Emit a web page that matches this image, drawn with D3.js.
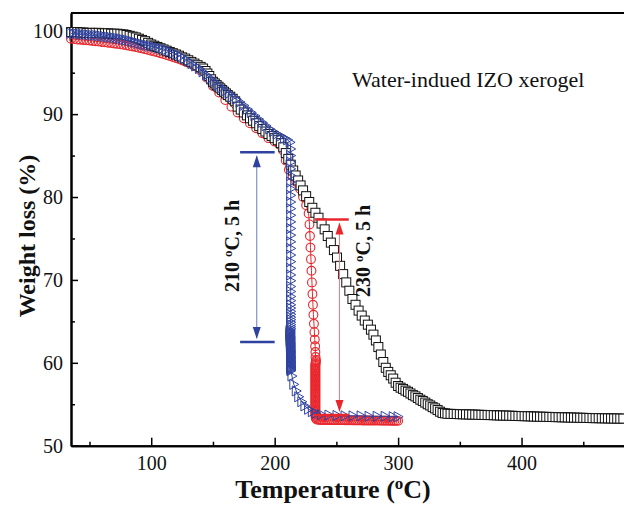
<!DOCTYPE html>
<html>
<head>
<meta charset="utf-8">
<script src="https://cdn.jsdelivr.net/npm/d3@7"></script>
<style>
  body { margin: 0; background: #fff; }
  svg { display: block; }
  text { font-family: "Liberation Serif", "Times New Roman", serif; }
</style>
</head>
<body>
<svg id="chart"></svg>
<script>
// ---- data: [temperature (C), weight (%)] ----
var blackPts = [
  [35,99.9],[37.5,99.9],[40,99.9],[42.5,99.85],[45,99.85],[47.5,99.8],[50,99.8],[52.5,99.8],[55,99.8],[57.5,99.8],
  [60,99.75],[62.5,99.75],[65,99.75],[67.5,99.7],[70,99.7],[72.5,99.7],[75,99.65],[77.5,99.62],[80,99.55],[82.5,99.45],
  [85,99.35],[87.5,99.25],[90,99.1],[92.5,98.95],[95,98.8],[97.5,98.6],[100,98.4],[102.5,98.25],[105,98.1],[107.5,97.95],
  [110,97.8],[112.5,97.65],[115,97.5],[117.5,97.35],[120,97.2],[122.5,97.05],[125,96.85],[127.5,96.7],[130,96.5],[132.5,96.3],
  [135,96.1],[137.5,95.9],[140,95.7],[142,95.5],[144,95.2],[145.5,94.9],[147,94.6],[148.5,94.2],[150,93.9],[151.5,93.7],
  [153,93.5],[154.5,93.3],[156,93.1],[157.5,92.9],[159,92.7],[160.5,92.5],[162,92.3],[164,92.1],[166,91.85],[168,91.55],
  [170,90.9],[172.5,90.55],[175,90.2],[177.5,89.85],[180,89.5],[182.5,89.2],[185,88.9],[187.5,88.55],[190,88.2],[192.5,87.9],
  [195,87.6],[197.5,87.35],[200,87.1],[202.5,86.85],[205,86.5],[207,86.0],[209,85.3],[211,84.6],[213,83.9],[215,83.2],
  [217,82.6],[219,82.0],[221,81.4],[223,80.8],[225.5,80.1],[228,79.4],[230.5,78.7],[233,78.1],[235.5,77.5],[238,76.8],
  [240.5,76.1],[243,75.3],[245.5,74.5],[248,73.6],[250.5,72.7],[253,71.7],[255.5,70.7],[258,69.7],[260.5,68.7],[263,67.7],
  [265.5,67.0],[268,66.3],[270.5,65.7],[273,65.1],[275.5,64.6],[278,64.0],[280,63.4],[282,62.7],[284,61.9],[286,61.0],
  [288,60.1],[290,59.4],[292,58.9],[294,58.5],[296,58.1],[298,57.6],[300,57.2],[302,57.0],[304,56.85],[306,56.65],
  [308,56.5],[310,56.3],[312,56.1],[314,55.95],[316,55.75],[318,55.55],[320,55.4],[322,55.2],[324,55.0],[326,54.85],
  [328,54.65],[330,54.5],[332,54.3],[334,54.1],[336,53.95],[338,53.9],
  [340,53.85],[342.5,53.84],[345,53.83],[347.5,53.82],[350,53.8],[352.5,53.79],[355,53.78],[357.5,53.77],[360,53.76],[362.5,53.75],
  [365,53.73],[367.5,53.72],[370,53.71],[372.5,53.7],[375,53.69],[377.5,53.68],[380,53.66],[382.5,53.65],[385,53.64],[387.5,53.63],
  [390,53.62],[392.5,53.61],[395,53.59],[397.5,53.58],[400,53.57],[402.5,53.56],[405,53.55],[407.5,53.54],[410,53.52],[412.5,53.51],
  [415,53.5],[417.5,53.49],[420,53.48],[422.5,53.47],[425,53.46],[427.5,53.45],[430,53.44],[432.5,53.43],[435,53.42],[437.5,53.41],
  [440,53.4],[442.5,53.39],[445,53.38],[447.5,53.37],[450,53.36],[452.5,53.35],[455,53.34],[457.5,53.33],[460,53.32],[462.5,53.32],
  [465,53.31],[467.5,53.3],[470,53.3],[472.5,53.29],[475,53.28],[477.5,53.28],[480,53.27],[482.5,53.27]
];

var redPts = [
  [35,99.1],[37.5,99.05],[40,99.0],[42.5,98.97],[45,98.94],[47.5,98.9],[50,98.87],[52.5,98.83],[55,98.79],[57.5,98.75],
  [60,98.7],[62.5,98.66],[65,98.62],[67.5,98.57],[70,98.52],[72.5,98.47],[75,98.42],[77.5,98.36],[80,98.3],[82.5,98.23],
  [85,98.16],[87.5,98.09],[90,98.01],[92.5,97.93],[95,97.84],[97.5,97.75],[100,97.65],[102.5,97.55],[105,97.45],[107.5,97.35],
  [110,97.24],[112.5,97.13],[115,97.02],[117.5,96.9],[120,96.78],[122.5,96.64],[125,96.5],[127.5,96.35],[130,96.2],[135,95.8],
  [140,95.25],[145,94.4],[150,93.4],[155,92.6],[160,91.7],[165,90.9],[170,90.2],[175,89.5],[180,88.9],[185,88.3],
  [190,87.7],[195,87.1],[200,86.7],[204,86.3],[207,85.6],[209,84.4],[211.5,83.3],[214.5,82.5],[217.5,81.8],[220.5,81.0],
  [223,80.0],[225.5,79.0],
  [227.5,78.0],[228.2,76.7],[228.6,75.3],[229,73.9],[229.4,72.5],[229.8,71.1],[230.2,69.7],[230.6,68.3],[231,67.0],[231.4,65.8],
  [231.8,64.7],[232.2,63.7],[232.5,62.8],[232.8,62.0],[233,61.3],[233.1,60.7],
  [233.4,60.35],[233.3,60.2],[233.2,60.05],[233.1,59.9],[233.0,59.75],[233.0,59.6],[233.0,59.45],[233.0,59.3],[233.0,59.15],[233.0,59.0],
  [233.0,58.85],[233.0,58.7],[233.0,58.55],[233.0,58.4],[233.0,58.25],[233.0,58.1],[233.0,57.95],[233.0,57.8],[233.0,57.65],[233.0,57.5],
  [233.0,57.35],[233.0,57.2],[233.0,57.05],[233.0,56.9],[233.0,56.75],[233.0,56.6],[233.0,56.45],[233.0,56.3],[233.0,56.15],[233.0,56.0],
  [233.0,55.85],[233.0,55.7],[233.0,55.55],[233.0,55.4],[233.0,55.25],[233.0,55.1],[233.0,54.95],[233.0,54.8],[233.0,54.65],[233.0,54.5],
  [233.0,54.35],[233.0,54.2],[233.0,54.05],[233.0,53.9],[233.0,53.75],[233.1,53.6],[233.2,53.45],[233.3,53.3],
  [234,53.15],[235.5,53.12],[237,53.1],[238.5,53.1],[240,53.1],[241.5,53.1],[243,53.1],[244.5,53.1],[246,53.1],[247.5,53.08],
  [249,53.08],[250.5,53.08],[252,53.08],[253.5,53.08],[255,53.08],[256.5,53.06],[258,53.06],[259.5,53.06],[261,53.06],[262.5,53.06],
  [264,53.05],[265.5,53.05],[267,53.05],[268.5,53.05],[270,53.05],[271.5,53.04],[273,53.04],[274.5,53.04],[276,53.04],[277.5,53.04],
  [279,53.03],[280.5,53.03],[282,53.03],[283.5,53.03],[285,53.03],[286.5,53.02],[288,53.02],[289.5,53.02],[291,53.02],[292.5,53.02],
  [294,53.01],[295.5,53.01],[297,53.0],[298.5,53.0],[300,53.0]
];

var bluePts = [
  [35,99.75],[37.5,99.7],[40,99.7],[42.5,99.65],[45,99.6],[47.5,99.6],[50,99.55],[52.5,99.5],[55,99.5],[57.5,99.45],
  [60,99.4],[62.5,99.35],[65,99.3],[67.5,99.25],[70,99.2],[72.5,99.15],[75,99.1],[77.5,99.0],[80,98.95],[82.5,98.85],
  [85,98.75],[87.5,98.65],[90,98.55],[92.5,98.45],[95,98.35],[97.5,98.28],[100,98.2],[103,98.1],[106,98.0],[109,97.9],
  [112,97.75],[115,97.6],[118,97.4],[121,97.2],[124,96.95],[127,96.7],[130,96.4],[133,96.1],[136,95.8],[139,95.5],
  [142,95.1],[145,94.7],[148,94.3],[151,93.9],[154,93.5],[157,93.2],[160,92.8],[163,92.5],[166,92.1],[169,91.8],
  [172,91.45],[175,91.05],[178,90.6],[181,90.2],[184,89.8],[187,89.4],[190,89.0],[193,88.6],[196,88.2],[199,87.9],
  [202,87.6],[205,87.35],[208,87.1],[210.5,86.9],[212.5,86.6],
  [213,85.8],[213,85.0],[213,84.2],[213,83.4],[213,82.6],[213,81.8],[213,81.0],[213,80.2],[213,79.4],[213,78.6],
  [213,77.8],[213,77.0],[213,76.2],[213,75.4],[213,74.6],[213,73.8],[213,73.0],[213,72.2],[213,71.4],[213,70.6],
  [213,69.9],[213,69.2],[213,68.6],[213,68.0],[213,67.5],[213,67.0],[213,66.6],[213,66.2],[213,65.85],[213,65.5],
  [213,65.2],[213,64.9],[213,64.6],[213,64.35],[213,64.1],
  [212.6,63.95],[212.6,63.85],[212.6,63.75],[212.6,63.65],[212.6,63.55],[212.6,63.45],[212.6,63.35],[212.6,63.25],[212.7,63.15],[212.7,63.05],
  [212.7,62.95],[212.7,62.85],[212.7,62.75],[212.7,62.65],[212.7,62.55],[212.7,62.45],[212.8,62.35],[212.8,62.25],[212.8,62.15],[212.8,62.05],
  [212.8,61.95],[212.8,61.85],[212.8,61.75],[212.8,61.65],[212.9,61.55],[212.9,61.45],[212.9,61.35],[212.9,61.25],[212.9,61.15],[212.9,61.05],
  [212.9,60.95],[212.9,60.85],[213,60.75],[213,60.65],[213,60.55],[213,60.45],[213,60.35],[213,60.25],[213.1,60.15],[213.1,60.05],
  [213.1,59.95],[213.1,59.85],[213.1,59.75],[213.1,59.65],[213.2,59.55],[213.2,59.45],[213.2,59.35],[213.2,59.25],[213.2,59.15],[213.2,59.05],
  [214,58.4],[215.5,57.4],[217.5,56.6],[219.5,55.9],[222,55.3],[224.5,54.8],[227.5,54.4],[230.5,54.1],[233.5,53.9],
  [238,53.75],[244,53.7],[250.5,53.65],[257,53.6],[263.5,53.6],[270,53.6],[276.5,53.55],[283,53.55],[289.5,53.55],[296,53.5],[300,53.5]
];

var xTicks = [100, 200, 300, 400];
var xMinor = [50, 150, 250, 350, 450];
var yTicks = [50, 60, 70, 80, 90, 100];
var yMinor = [55, 65, 75, 85, 95];

// annotations: [x position (C), top weight, bottom weight, bar from, bar to]
var blueSpan = [185.5, 85.4, 62.5, 172, 200];
var redSpan = [252.5, 77.3, 53.7, 232.5, 260];

var width = 624, height = 506;
var margin = {top: 13, right: 0, bottom: 60, left: 71};

var svg = d3.select('#chart')
    .attr('width', width)
    .attr('height', height);

var x = d3.scaleLinear().domain([35, 483]).range([margin.left, width - margin.right]);
var y = d3.scaleLinear().domain([50, 102.2]).range([445.7, margin.top]);

// axes
svg.append('g')
    .attr('transform', 'translate(0,' + y(50) + ')')
    .call(d3.axisBottom(x).tickValues(xTicks).tickSizeInner(-8).tickSizeOuter(0).tickPadding(10));
svg.append('g')
    .attr('transform', 'translate(0,' + y(50) + ')')
    .call(d3.axisBottom(x).tickValues(xMinor).tickSizeInner(-4).tickSizeOuter(0).tickFormat(''));
svg.append('g')
    .attr('transform', 'translate(' + margin.left + ',0)')
    .call(d3.axisLeft(y).tickValues(yTicks).tickSizeInner(-7).tickSizeOuter(0).tickPadding(8));
svg.append('g')
    .attr('transform', 'translate(' + margin.left + ',0)')
    .call(d3.axisLeft(y).tickValues(yMinor).tickSizeInner(-4).tickSizeOuter(0).tickFormat(''));

svg.selectAll('.domain').attr('stroke', '#000').attr('stroke-width', 2);
svg.selectAll('.tick line').attr('stroke', '#000').attr('stroke-width', 1.5);
svg.selectAll('.tick text').attr('font-size', 20).attr('fill', '#111');

// top frame
svg.append('line')
    .attr('x1', x(35)).attr('x2', x(483))
    .attr('y1', y(102.2)).attr('y2', y(102.2))
    .attr('stroke', '#000').attr('stroke-width', 2);

var plot = svg.append('g');

var line = d3.line()
    .x(function(d) { return x(d[0]); })
    .y(function(d) { return y(d[1]); });

var redColor = '#e8262c', blueColor = '#2f42a0';

// red circles
plot.append('path').datum(redPts)
    .attr('d', line).attr('fill', 'none').attr('stroke', redColor).attr('stroke-width', 1);
plot.selectAll('.red').data(redPts).enter().append('circle')
    .attr('cx', function(d) { return x(d[0]); })
    .attr('cy', function(d) { return y(d[1]); })
    .attr('r', 4.4)
    .attr('fill', 'none')
    .attr('stroke', redColor)
    .attr('stroke-width', 1.1);

// black squares
plot.selectAll('.blk').data(blackPts).enter().append('rect')
    .attr('x', function(d) { return x(d[0]) - 4.5; })
    .attr('y', function(d) { return y(d[1]) - 4.5; })
    .attr('width', 9).attr('height', 9)
    .attr('fill', '#fff')
    .attr('stroke', '#111')
    .attr('stroke-width', 1);

// blue triangles
plot.append('path').datum(bluePts)
    .attr('d', line).attr('fill', 'none').attr('stroke', blueColor).attr('stroke-width', 1);
plot.selectAll('.blu').data(bluePts).enter().append('path')
    .attr('transform', function(d) { return 'translate(' + x(d[0]) + ',' + y(d[1]) + ')'; })
    .attr('d', 'M-4,-5L5,0L-4,5Z')
    .attr('fill', 'none')
    .attr('stroke', blueColor)
    .attr('stroke-width', 1);

// span annotations
function span(s, color, lineColor) {
  var g = svg.append('g');
  var ax = x(s[0]), yTop = y(s[1]), yBot = y(s[2]);
  g.append('line').attr('x1', x(s[3])).attr('x2', x(s[4])).attr('y1', yTop).attr('y2', yTop)
      .attr('stroke', color).attr('stroke-width', 2.5);
  g.append('line').attr('x1', x(s[3])).attr('x2', x(s[4])).attr('y1', yBot).attr('y2', yBot)
      .attr('stroke', color).attr('stroke-width', 2.5);
  g.append('line').attr('x1', ax).attr('x2', ax).attr('y1', yTop + 4).attr('y2', yBot - 4)
      .attr('stroke', lineColor).attr('stroke-width', 1);
  var t1 = yTop + 3, t2 = yBot - 3;
  g.append('path').attr('d', 'M' + ax + ',' + t1 + 'L' + (ax - 4) + ',' + (t1 + 12) + 'L' + (ax + 4) + ',' + (t1 + 12) + 'Z')
      .attr('fill', color);
  g.append('path').attr('d', 'M' + ax + ',' + t2 + 'L' + (ax - 4) + ',' + (t2 - 12) + 'L' + (ax + 4) + ',' + (t2 - 12) + 'Z')
      .attr('fill', color);
}
span(blueSpan, blueColor, '#6a7cc4');
span(redSpan, redColor, '#f07a78');

function rotLabel(cx, cy, num) {
  var t = svg.append('text')
      .attr('transform', 'translate(' + cx + ',' + cy + ') rotate(-90)')
      .attr('text-anchor', 'middle')
      .attr('font-weight', 'bold')
      .attr('font-size', 20)
      .attr('fill', '#111');
  t.append('tspan').text(num + ' ');
  t.append('tspan').attr('baseline-shift', 'super').attr('font-size', 13).text('o');
  t.append('tspan').text('C, 5 h');
}
rotLabel(239, 246, '210');
rotLabel(370, 251, '230');

svg.append('text')
    .attr('x', 352).attr('y', 87)
    .attr('font-size', 22)
    .attr('fill', '#111')
    .text('Water-indued IZO xerogel');

// axis titles
var xt = svg.append('text')
    .attr('x', 333).attr('y', 498)
    .attr('text-anchor', 'middle')
    .attr('font-weight', 'bold')
    .attr('font-size', 26)
    .attr('fill', '#111');
xt.append('tspan').text('Temperature (');
xt.append('tspan').attr('baseline-shift', 'super').attr('font-size', 17).text('o');
xt.append('tspan').text('C)');

svg.append('text')
    .attr('transform', 'translate(35,236) rotate(-90)')
    .attr('text-anchor', 'middle')
    .attr('font-weight', 'bold')
    .attr('font-size', 24)
    .attr('fill', '#111')
    .text('Weight loss (%)');
</script>
</body>
</html>
